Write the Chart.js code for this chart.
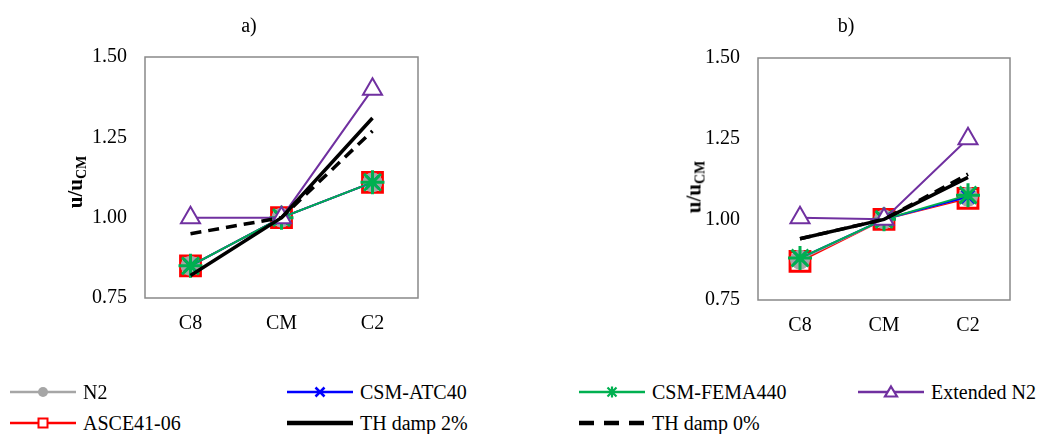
<!DOCTYPE html>
<html>
<head>
<meta charset="utf-8">
<script src="https://cdn.jsdelivr.net/npm/chart.js@4"></script>
<style>
  body { margin: 0; background: #fff; }
  #wrap { position: relative; width: 1056px; height: 434px; overflow: hidden; font-family: "Liberation Serif", "Times New Roman", Tinos, "DejaVu Serif", serif; }
  .panel { position: absolute; top: 0; }
  .lbl { position: absolute; font-size: 20px; color: #000; white-space: nowrap; transform: translate(-50%, -50%); }
  .ytitle { position: absolute; font-size: 21px; font-weight: bold; white-space: nowrap; transform: translate(-50%, -50%) rotate(-90deg); }
  .ytitle sub { font-size: 14px; vertical-align: -4px; }
  .leg { position: absolute; display: flex; align-items: center; height: 30px; transform: translateY(-50%); font-size: 20px; }
  .leg svg { margin-right: 7px; }
</style>
</head>
<body>
<div id="wrap">
  <div class="panel" style="left:0"><canvas id="chartA" width="528" height="345"></canvas></div>
  <div class="panel" style="left:528px"><canvas id="chartB" width="528" height="345"></canvas></div>
  <div class="lbl" style="left:249px;top:25px">a)</div>
  <div class="lbl" style="left:846px;top:25px">b)</div>
  <div class="ytitle" style="left:76px;top:182px">u/u<sub>CM</sub></div>
  <div class="ytitle" style="left:695px;top:187px">u/u<sub>CM</sub></div>
  <div id="legend"></div>
</div>
<script>
const serif = '"Liberation Serif", "Times New Roman", Tinos, "DejaVu Serif", serif'

const categories = ['C8', 'CM', 'C2']
const yTicks = [0.75, 1.00, 1.25, 1.50]

const seriesNames = ['N2', 'CSM-ATC40', 'CSM-FEMA440', 'Extended N2', 'ASCE41-06', 'TH damp 2%', 'TH damp 0%']

// panel a)
const n2A = [0.85, 1.00, 1.11]
const atc40A = [0.85, 1.00, 1.11]
const fema440A = [0.85, 1.00, 1.11]
const extN2A = [1.00, 1.00, 1.40]
const asceA = [0.85, 1.00, 1.11]
const th2A = [0.82, 1.00, 1.31]
const th0A = [0.95, 1.00, 1.27]

// panel b)
const n2B = [0.875, 1.00, 1.07]
const atc40B = [0.88, 1.00, 1.07]
const fema440B = [0.88, 1.00, 1.075]
const extN2B = [1.005, 1.00, 1.25]
const asceB = [0.87, 1.00, 1.065]
const th2B = [0.94, 1.00, 1.13]
const th0B = [0.94, 1.00, 1.14]

// look of each series (same order as seriesNames)
const styles = [
  { color: '#A6A6A6', width: 2, point: 'circle', radius: 9.5, fill: '#A6A6A6', pw: 1, order: 5 },
  { color: '#0000FF', width: 2, point: 'crossRot', radius: 9, fill: '#0000FF', pw: 2.5, order: 4 },
  { color: '#00B050', width: 2, point: 'star', radius: 12, fill: '#00B050', pw: 3, order: 3 },
  { color: '#7030A0', width: 2, point: 'triangle', radius: 11, fill: '#FFFFFF', pw: 2, order: 2 },
  { color: '#FF0000', width: 2, point: 'rect', radius: 14, fill: 'rgba(0,0,0,0)', pw: 3, order: 6 },
  { color: '#000000', width: 3.5, point: false, radius: 0, order: 0 },
  { color: '#000000', width: 3.5, point: false, radius: 0, dash: [11, 7], order: 1 }
]

function makeDatasets(values) {
  return values.map((data, i) => {
    const s = styles[i]
    return {
      label: seriesNames[i],
      data: data,
      borderColor: s.color,
      borderWidth: s.width,
      borderDash: s.dash || [],
      pointStyle: s.point,
      pointRadius: s.radius,
      pointBorderColor: s.color,
      pointBackgroundColor: s.fill,
      pointBorderWidth: s.pw || 0,
      pointHoverRadius: s.radius,
      tension: 0,
      order: s.order,
      clip: false
    }
  })
}

const frameBox = {
  id: 'frameBox',
  afterDraw(chart) {
    const a = chart.chartArea
    const ctx = chart.ctx
    ctx.save()
    ctx.strokeStyle = '#898989'
    ctx.lineWidth = 1.5
    ctx.strokeRect(a.left, a.top, a.right - a.left, a.bottom - a.top)
    ctx.restore()
  }
}

function makeChart(id, values, box) {
  const ctx = document.getElementById(id).getContext('2d')
  return new Chart(ctx, {
    type: 'line',
    data: { labels: categories, datasets: makeDatasets(values) },
    plugins: [frameBox],
    options: {
      responsive: false,
      animation: false,
      events: [],
      layout: { padding: { top: box.top, right: box.right, bottom: 0, left: 0 } },
      plugins: { legend: { display: false }, tooltip: { enabled: false }, title: { display: false } },
      scales: {
        x: {
          type: 'category',
          offset: true,
          grid: { display: false, drawTicks: false },
          border: { display: false },
          ticks: { color: '#000', padding: 14, font: { family: serif, size: 20 } },
          afterFit(scale) { scale.height = box.xHeight }
        },
        y: {
          min: 0.75,
          max: 1.5,
          afterBuildTicks(scale) { scale.ticks = yTicks.map(v => ({ value: v })) },
          grid: { display: false, drawTicks: false },
          border: { display: false },
          ticks: {
            color: '#000',
            padding: 18,
            font: { family: serif, size: 20 },
            callback: v => Number(v).toFixed(2)
          },
          afterFit(scale) { scale.width = box.yWidth }
        }
      }
    }
  })
}

makeChart('chartA', [n2A, atc40A, fema440A, extN2A, asceA, th2A, th0A],
  { top: 57, right: 110, yWidth: 145, xHeight: 47 })
makeChart('chartB', [n2B, atc40B, fema440B, extN2B, asceB, th2B, th0B],
  { top: 58, right: 46, yWidth: 230, xHeight: 45 })

// legend: 4 columns, 2 rows
const legendCols = [10, 287, 579, 858]
const legendRows = [392, 423]

function legendMarker(i) {
  const s = styles[i]
  const c = s.color
  let line = '<line x1="0" y1="10" x2="66" y2="10" stroke="' + c + '" stroke-width="' + (s.point ? 2.5 : 4.5) + '"' +
    (s.dash ? ' stroke-dasharray="15 10"' : '') + '/>'
  let m = ''
  if (s.point === 'circle') m = '<circle cx="33" cy="10" r="5" fill="' + c + '"/>'
  if (s.point === 'crossRot') m = '<path d="M28.5 5.5L37.5 14.5M37.5 5.5L28.5 14.5" stroke="' + c + '" stroke-width="2.5"/>'
  if (s.point === 'star') m = '<path d="M28.5 5.5L37.5 14.5M37.5 5.5L28.5 14.5M33 4.5V15.5" stroke="' + c + '" stroke-width="2.2"/>'
  if (s.point === 'triangle') m = '<path d="M33 4.5L39 14.5H27Z" fill="#fff" stroke="' + c + '" stroke-width="2.2"/>'
  if (s.point === 'rect') m = '<rect x="28.5" y="5.5" width="9" height="9" fill="#fff" stroke="' + c + '" stroke-width="2"/>'
  return '<svg width="66" height="20">' + line + m + '</svg>'
}

const legendEl = document.getElementById('legend')
seriesNames.forEach((name, i) => {
  const row = Math.floor(i / 4)
  const col = i % 4
  const d = document.createElement('div')
  d.className = 'leg'
  d.style.left = legendCols[col] + 'px'
  d.style.top = legendRows[row] + 'px'
  d.innerHTML = legendMarker(i) + '<span>' + name + '</span>'
  legendEl.appendChild(d)
})
</script>
</body>
</html>
